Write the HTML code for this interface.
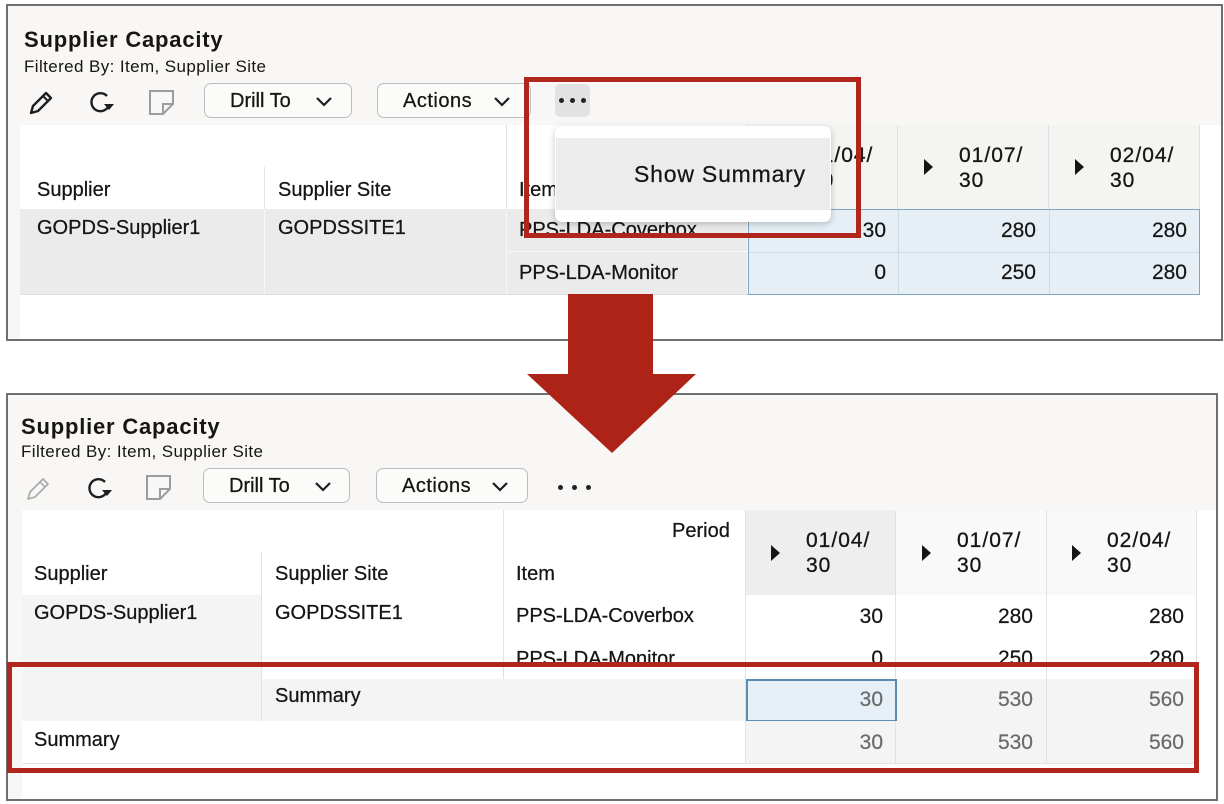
<!DOCTYPE html>
<html><head><meta charset="utf-8">
<style>
html,body{margin:0;padding:0;background:#fff;}
body{width:1224px;height:804px;position:relative;overflow:hidden;font-family:"Liberation Sans",Arial,sans-serif;color:#161513;}
div,svg{position:absolute;box-sizing:border-box;}
.t{line-height:1;white-space:nowrap;font-size:20px;-webkit-text-stroke:0.25px #161513;}
.v{line-height:1;white-space:nowrap;font-size:21px;text-align:right;width:120px;-webkit-text-stroke:0.2px #161513;}
.g{color:#6a6a6a;-webkit-text-stroke:0.2px #6a6a6a;}
.cell{border-right:1px solid #e2e2e2;border-bottom:1px solid #e2e2e2;background:#fff;}
.gc{border-right:1px solid #f7f7f7;border-bottom:1px solid #f7f7f7;background:#ebebeb;}
.btn{border:1.5px solid #bdbdbd;border-radius:7px;background:#fbfbfa;}
.tri{width:0;height:0;border-left:9px solid #161513;border-top:8px solid transparent;border-bottom:8px solid transparent;}
.date{font-size:21px;line-height:25px;letter-spacing:1px;white-space:nowrap;-webkit-text-stroke:0.3px #161513;}
.dot{width:5px;height:5px;border-radius:50%;background:#222;}
.red{border:5px solid #b0261c;}
.ttl{font-size:22px;font-weight:bold;-webkit-text-stroke:0;letter-spacing:0.8px;}
.flt{font-size:17px;letter-spacing:0.4px;-webkit-text-stroke:0;}
</style></head><body>

<!-- ================= TOP PANEL ================= -->
<div style="left:6px;top:4px;width:1217px;height:337px;border:2px solid #6f6f6f;background:#f8f7f5"></div>
<div style="left:20px;top:125px;width:1201px;height:214px;background:#fff"></div>

<div class="t ttl" style="left:24px;top:29px">Supplier Capacity</div>
<div class="t flt" style="left:24px;top:58px">Filtered By: Item, Supplier Site</div>

<!-- toolbar icons top -->
<svg style="left:27px;top:88px" width="28" height="28" viewBox="0 0 28 28"><path d="M4 25 L6 18 L19 5 L24 10 L11 23 Z" fill="none" stroke="#1e1e1e" stroke-width="2.4" stroke-linejoin="round"/><path d="M16 8 L21 13" stroke="#1e1e1e" stroke-width="2"/></svg>
<svg style="left:87px;top:90px" width="28" height="26" viewBox="0 0 28 26"><path d="M20 6 A9 9 0 1 0 22 15" fill="none" stroke="#1e1e1e" stroke-width="2.4"/><polygon points="17,14 27,14 22,20" fill="#1e1e1e"/></svg>
<svg style="left:147px;top:88px" width="30" height="28" viewBox="0 0 30 28"><path d="M3 3 H26 V16 L16 26 H3 Z" fill="none" stroke="#9c9c9c" stroke-width="2"/><path d="M26 16 H16 V26" fill="none" stroke="#9c9c9c" stroke-width="2"/></svg>

<div class="btn" style="left:204px;top:83px;width:148px;height:35px"></div>
<div class="t" style="left:230px;top:91px">Drill To</div>
<svg style="left:315px;top:96px" width="18" height="12" viewBox="0 0 18 12"><path d="M2 2 L9 9 L16 2" fill="none" stroke="#1e1e1e" stroke-width="2.2"/></svg>
<div class="btn" style="left:377px;top:83px;width:154px;height:35px"></div>
<div class="t" style="left:403px;top:91px;letter-spacing:0.5px">Actions</div>
<svg style="left:493px;top:96px" width="18" height="12" viewBox="0 0 18 12"><path d="M2 2 L9 9 L16 2" fill="none" stroke="#1e1e1e" stroke-width="2.2"/></svg>
<div style="left:555px;top:84px;width:35px;height:33px;background:#e2e2e2;border-radius:5px"></div>
<div class="dot" style="left:559px;top:98px"></div>
<div class="dot" style="left:570px;top:98px"></div>
<div class="dot" style="left:581px;top:98px"></div>

<!-- top table -->
<div class="cell" style="left:20px;top:125px;width:487px;height:43px"></div>
<div class="cell" style="left:507px;top:125px;width:241px;height:43px"></div>
<div class="t" style="left:672px;top:138px">Period</div>
<div class="cell" style="left:748px;top:125px;width:150px;height:85px;background:#f4f4f3"></div>
<div class="cell" style="left:898px;top:125px;width:151px;height:85px;background:#f4f4f3"></div>
<div class="cell" style="left:1049px;top:125px;width:151px;height:85px;background:#f4f4f3"></div>
<div class="cell" style="left:20px;top:167px;width:245px;height:43px"></div>
<div class="cell" style="left:265px;top:167px;width:242px;height:43px"></div>
<div class="cell" style="left:507px;top:167px;width:241px;height:43px"></div>
<div class="gc" style="left:20px;top:209px;width:245px;height:86px"></div>
<div class="gc" style="left:265px;top:209px;width:242px;height:86px"></div>
<div class="gc" style="left:507px;top:209px;width:241px;height:43px"></div>
<div class="gc" style="left:507px;top:252px;width:241px;height:43px;border-bottom-color:#e0e0e0"></div>
<div style="left:20px;top:294px;width:728px;height:1px;background:#dedede"></div>
<div style="left:748px;top:209px;width:452px;height:86px;background:#e5eff5;border:1.5px solid #7ea6c1"></div>
<div style="left:898px;top:210px;width:1px;height:84px;background:#cbdae4"></div>
<div style="left:1049px;top:210px;width:1px;height:84px;background:#cbdae4"></div>
<div style="left:749px;top:252px;width:450px;height:1px;background:#cbdae4"></div>

<div class="tri" style="left:774px;top:159px"></div>
<div class="date" style="left:809px;top:143px">01/04/<br>30</div>
<div class="tri" style="left:924px;top:159px"></div>
<div class="date" style="left:959px;top:143px">01/07/<br>30</div>
<div class="tri" style="left:1075px;top:159px"></div>
<div class="date" style="left:1110px;top:143px">02/04/<br>30</div>

<div class="t" style="left:37px;top:180px">Supplier</div>
<div class="t" style="left:278px;top:180px">Supplier Site</div>
<div class="t" style="left:519px;top:180px">Item</div>
<div class="t" style="left:37px;top:218px">GOPDS-Supplier1</div>
<div class="t" style="left:278px;top:218px">GOPDSSITE1</div>
<div class="t" style="left:519px;top:220px">PPS-LDA-Coverbox</div>
<div class="t" style="left:519px;top:263px">PPS-LDA-Monitor</div>
<div class="v" style="left:766px;top:220px">30</div>
<div class="v" style="left:916px;top:220px">280</div>
<div class="v" style="left:1067px;top:220px">280</div>
<div class="v" style="left:766px;top:262px">0</div>
<div class="v" style="left:916px;top:262px">250</div>
<div class="v" style="left:1067px;top:262px">280</div>

<!-- popup -->
<div style="left:555px;top:126px;width:276px;height:96px;background:#fff;border-radius:7px;box-shadow:0 2px 7px rgba(0,0,0,0.22)"></div>
<div style="left:556px;top:138px;width:274px;height:72px;background:#ececec"></div>
<div class="t" style="left:634px;top:163px;font-size:23px;letter-spacing:0.8px">Show Summary</div>

<div class="red" style="left:524px;top:77px;width:337px;height:161px"></div>

<!-- ================= BOTTOM PANEL ================= -->
<div style="left:6px;top:393px;width:1212px;height:408px;border:2px solid #6f6f6f;background:#f8f7f5"></div>
<div style="left:22px;top:510px;width:1194px;height:289px;background:#fff"></div>

<div class="t ttl" style="left:21px;top:416px">Supplier Capacity</div>
<div class="t flt" style="left:21px;top:443px">Filtered By: Item, Supplier Site</div>

<svg style="left:24px;top:474px" width="28" height="28" viewBox="0 0 28 28"><path d="M4 25 L6 18 L19 5 L24 10 L11 23 Z" fill="none" stroke="#a8a8a8" stroke-width="1.6" stroke-linejoin="round"/><path d="M16 8 L21 13" stroke="#a8a8a8" stroke-width="1.5"/></svg>
<svg style="left:85px;top:476px" width="28" height="26" viewBox="0 0 28 26"><path d="M20 6 A9 9 0 1 0 22 15" fill="none" stroke="#1e1e1e" stroke-width="2.4"/><polygon points="17,14 27,14 22,20" fill="#1e1e1e"/></svg>
<svg style="left:144px;top:473px" width="30" height="28" viewBox="0 0 30 28"><path d="M3 3 H26 V16 L16 26 H3 Z" fill="none" stroke="#9c9c9c" stroke-width="2"/><path d="M26 16 H16 V26" fill="none" stroke="#9c9c9c" stroke-width="2"/></svg>

<div class="btn" style="left:203px;top:468px;width:147px;height:35px"></div>
<div class="t" style="left:229px;top:476px">Drill To</div>
<svg style="left:314px;top:481px" width="18" height="12" viewBox="0 0 18 12"><path d="M2 2 L9 9 L16 2" fill="none" stroke="#1e1e1e" stroke-width="2.2"/></svg>
<div class="btn" style="left:376px;top:468px;width:152px;height:35px"></div>
<div class="t" style="left:402px;top:476px;letter-spacing:0.5px">Actions</div>
<svg style="left:491px;top:481px" width="18" height="12" viewBox="0 0 18 12"><path d="M2 2 L9 9 L16 2" fill="none" stroke="#1e1e1e" stroke-width="2.2"/></svg>
<div class="dot" style="left:558px;top:485px"></div>
<div class="dot" style="left:572px;top:485px"></div>
<div class="dot" style="left:586px;top:485px"></div>

<!-- bottom table -->
<div class="cell" style="left:22px;top:510px;width:482px;height:44px"></div>
<div class="cell" style="left:504px;top:510px;width:242px;height:44px"></div>
<div class="cell" style="left:746px;top:510px;width:150px;height:86px;background:#eeeeee"></div>
<div class="cell" style="left:896px;top:510px;width:151px;height:86px;background:#f9f9f9"></div>
<div class="cell" style="left:1047px;top:510px;width:150px;height:86px;background:#f9f9f9"></div>
<div class="cell" style="left:22px;top:553px;width:240px;height:43px"></div>
<div class="cell" style="left:262px;top:553px;width:242px;height:43px"></div>
<div class="cell" style="left:504px;top:553px;width:242px;height:43px"></div>
<div class="cell" style="left:22px;top:595px;width:240px;height:127px;background:#f4f4f4"></div>
<div class="cell" style="left:262px;top:595px;width:242px;height:85px"></div>
<div class="cell" style="left:504px;top:595px;width:242px;height:42px"></div>
<div class="cell" style="left:746px;top:595px;width:150px;height:42px"></div>
<div class="cell" style="left:896px;top:595px;width:151px;height:42px"></div>
<div class="cell" style="left:1047px;top:595px;width:150px;height:42px"></div>
<div class="cell" style="left:504px;top:636px;width:242px;height:44px"></div>
<div class="cell" style="left:746px;top:636px;width:150px;height:44px"></div>
<div class="cell" style="left:896px;top:636px;width:151px;height:44px"></div>
<div class="cell" style="left:1047px;top:636px;width:150px;height:44px"></div>
<!-- summary rows -->
<div class="cell" style="left:262px;top:679px;width:484px;height:43px;background:#f4f4f4"></div>
<div class="cell" style="left:896px;top:679px;width:151px;height:43px;background:#f4f4f4"></div>
<div class="cell" style="left:1047px;top:679px;width:150px;height:43px;background:#f4f4f4"></div>
<div style="left:746px;top:679px;width:151px;height:43px;background:#e6f0f6;border:2px solid #5a8db0"></div>
<div class="cell" style="left:22px;top:721px;width:724px;height:43px"></div>
<div class="cell" style="left:746px;top:721px;width:150px;height:43px;background:#f4f4f4"></div>
<div class="cell" style="left:896px;top:721px;width:151px;height:43px;background:#f4f4f4"></div>
<div class="cell" style="left:1047px;top:721px;width:150px;height:43px;background:#f4f4f4"></div>

<div class="t" style="left:672px;top:521px">Period</div>
<div class="tri" style="left:771px;top:545px"></div>
<div class="date" style="left:806px;top:528px">01/04/<br>30</div>
<div class="tri" style="left:922px;top:545px"></div>
<div class="date" style="left:957px;top:528px">01/07/<br>30</div>
<div class="tri" style="left:1072px;top:545px"></div>
<div class="date" style="left:1107px;top:528px">02/04/<br>30</div>

<div class="t" style="left:34px;top:564px">Supplier</div>
<div class="t" style="left:275px;top:564px">Supplier Site</div>
<div class="t" style="left:516px;top:564px">Item</div>
<div class="t" style="left:34px;top:603px">GOPDS-Supplier1</div>
<div class="t" style="left:275px;top:603px">GOPDSSITE1</div>
<div class="t" style="left:516px;top:606px">PPS-LDA-Coverbox</div>
<div class="v" style="left:763px;top:606px">30</div>
<div class="v" style="left:913px;top:606px">280</div>
<div class="v" style="left:1064px;top:606px">280</div>

<!-- clipped monitor row -->
<div style="left:0;top:636px;width:1224px;height:26px;overflow:hidden">
  <div class="t" style="left:516px;top:13px">PPS-LDA-Monitor</div>
  <div class="v" style="left:763px;top:12px">0</div>
  <div class="v" style="left:913px;top:12px">250</div>
  <div class="v" style="left:1064px;top:12px">280</div>
</div>

<div class="t" style="left:275px;top:686px">Summary</div>
<div class="v g" style="left:763px;top:689px">30</div>
<div class="v g" style="left:913px;top:689px">530</div>
<div class="v g" style="left:1064px;top:689px">560</div>
<div class="t" style="left:34px;top:730px">Summary</div>
<div class="v g" style="left:763px;top:732px">30</div>
<div class="v g" style="left:913px;top:732px">530</div>
<div class="v g" style="left:1064px;top:732px">560</div>

<div class="red" style="left:7px;top:662px;width:1192px;height:111px"></div>

<!-- arrow -->
<svg style="left:0;top:0" width="1224" height="804" viewBox="0 0 1224 804"><polygon points="568,294 653,294 653,374 696,374 612,453 527,374 568,374" fill="#ad2318"/></svg>

</body></html>
